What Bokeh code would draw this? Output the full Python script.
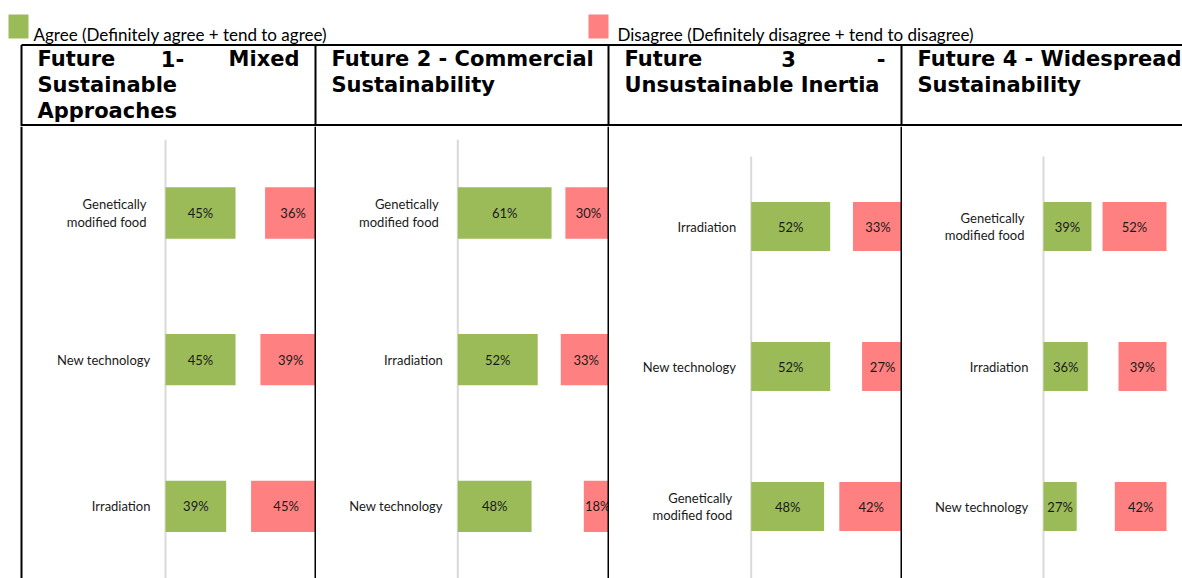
from bokeh.plotting import figure
from bokeh.layouts import column, row
from bokeh.models import Range1d, Span
from bokeh.core.properties import value
from bokeh.embed import file_html
from bokeh.resources import INLINE

# ---------------- data ----------------
legend_labels = ["Agree (Definitely agree + tend to agree)",
                 "Disagree (Definitely disagree + tend to disagree)"]

cats1 = ["Genetically\nmodified food", "New technology", "Irradiation"]
agree1 = [45, 45, 39]
disagree1 = [36, 39, 45]

cats2 = ["Genetically\nmodified food", "Irradiation", "New technology"]
agree2 = [61, 52, 48]
disagree2 = [30, 33, 18]

cats3 = ["Irradiation", "New technology", "Genetically\nmodified food"]
agree3 = [52, 52, 48]
disagree3 = [33, 27, 42]

cats4 = ["Genetically\nmodified food", "Irradiation", "New technology"]
agree4 = [39, 36, 27]
disagree4 = [52, 39, 42]

# header lines; a list inside a line = justified words
headers = [
    [["Future", "1-", "Mixed"], "Sustainable", "Approaches"],
    ["Future 2 - Commercial", "Sustainability"],
    [["Future", "3", "-"], "Unsustainable Inertia"],
    ["Future 4 - Widespread", "Sustainability"],
]

GREEN = "#9BBB59"
RED = "#FF8080"
AXIS_GREY = "#D9D9D9"
TXT = "#1A1A1A"

# ---------------- layout (page px) ----------------
W = 1182
TOP_H = 126
PANEL_H = 452
PANEL_TOP = TOP_H                     # 126
PANEL_BOTTOM = PANEL_TOP + PANEL_H    # 578

edges = [0, 316, 609, 902, 1182]          # figure page-x edges
axis_x = [165, 457.3, 750.7, 1043]        # 0 % position
full_x = [320.6, 611, 902.6, 1166]        # 100 % position
first_c = [212.5, 212.5, 226, 226]        # centre of first band
band = [146.7, 146.7, 140, 140]
borders = [21, 315, 608, 901]             # table vertical lines
mid_word_x = {0: 172, 2: 788}             # centre of middle word in justified lines

# ---------------- top (legend + header) ----------------
top = figure(width=W, height=TOP_H, output_backend="svg", toolbar_location=None,
             x_range=Range1d(0, W), y_range=Range1d(TOP_H, 0),
             x_axis_location=None, y_axis_location=None,
             min_border=0, outline_line_color=None)
top.grid.visible = False

# legend
for col, x0, tx, lab in [(GREEN, 8, 33, legend_labels[0]), (RED, 588, 617, legend_labels[1])]:
    top.quad(left=[x0], right=[x0 + 20], top=[14], bottom=[38],
             fill_color=col, line_color=None)
    top.text(x=[tx], y=[34], text=[lab], text_font=value("Lato"),
             text_font_size="17px", text_color="#000000", text_baseline="alphabetic")

# table lines
top.segment(x0=[21] * 2, x1=[W] * 2, y0=[44.5, 124.5], y1=[44.5, 124.5],
            line_color="black", line_width=2)
top.segment(x0=borders, x1=borders,
            y0=[44.5] * 4, y1=[TOP_H] * 4, line_color="black", line_width=2)

baselines = [58, 84, 110]
for i, lines in enumerate(headers):
    left = borders[i] + 16
    right = (borders[i + 1] - 16) if i < 3 else 1178
    for j, line in enumerate(lines):
        yy = baselines[j]
        kw = dict(text_font=value("DejaVu Sans"), text_font_style="bold",
                  text_font_size="21px", text_color="black", text_baseline="alphabetic")
        if isinstance(line, list):
            top.text(x=[left], y=[yy], text=[line[0]], text_align="left", **kw)
            top.text(x=[mid_word_x[i]], y=[yy], text=[line[1]], text_align="center", **kw)
            top.text(x=[right], y=[yy], text=[line[2]], text_align="right", **kw)
        else:
            top.text(x=[left], y=[yy], text=[line], text_align="left", **kw)

# ---------------- panels ----------------
panel_data = [(cats1, agree1, disagree1), (cats2, agree2, disagree2),
              (cats3, agree3, disagree3), (cats4, agree4, disagree4)]

panels = []
for i, (cats, ag, dis) in enumerate(panel_data):
    scale = (full_x[i] - axis_x[i]) / 100.0
    x0 = (edges[i] - axis_x[i]) / scale
    x1 = (edges[i + 1] - axis_x[i]) / scale
    y_bot = (PANEL_BOTTOM - first_c[i]) / band[i]
    y_top = -(first_c[i] - PANEL_TOP) / band[i]
    w = edges[i + 1] - edges[i]
    p = figure(width=w, height=PANEL_H, output_backend="svg", toolbar_location=None,
               x_range=Range1d(x0, x1), y_range=Range1d(y_bot, y_top),
               x_axis_location=None, y_axis_location=None,
               min_border=0, outline_line_color=None)
    p.grid.visible = False
    idx = list(range(len(cats)))

    # axis line
    p.segment(x0=[0], x1=[0], y0=[-0.5], y1=[y_bot], line_color=AXIS_GREY, line_width=2)

    # bars (100% stacked: agree from left, disagree from right)
    p.hbar(y=idx, left=0, right=ag, height=0.35, fill_color=GREEN, line_color=None)
    p.hbar(y=idx, left=[100 - d for d in dis], right=100, height=0.35,
           fill_color=RED, line_color=None)

    lab_kw = dict(text_font=value("Lato"), text_font_size="13px", text_color=TXT,
                  text_align="center", text_baseline="middle")
    p.text(x=[a / 2 for a in ag], y=idx, text=[f"{a}%" for a in ag], **lab_kw)
    p.text(x=[100 - d / 2 for d in dis], y=idx, text=[f"{d}%" for d in dis], **lab_kw)

    # category labels
    offs = [-19 if "\n" in c else -15 for c in cats]
    p.text(x=[0] * len(cats), y=idx, text=cats, x_offset=offs, text_align="right",
           text_baseline="middle", text_font=value("Lato"), text_font_size="13px",
           text_color=TXT, text_line_height=1.1)

    # table borders
    if i == 0:
        p.add_layout(Span(location=(borders[0] - axis_x[i]) / scale, dimension="height",
                          line_color="black", line_width=2))
    if i < 3:
        p.add_layout(Span(location=(borders[i + 1] - axis_x[i]) / scale, dimension="height",
                          line_color="black", line_width=2))
    panels.append(p)

layout = column(top, row(*panels, spacing=0), spacing=0)

with open("out.html", "w") as f:
    f.write(file_html(layout, INLINE))
